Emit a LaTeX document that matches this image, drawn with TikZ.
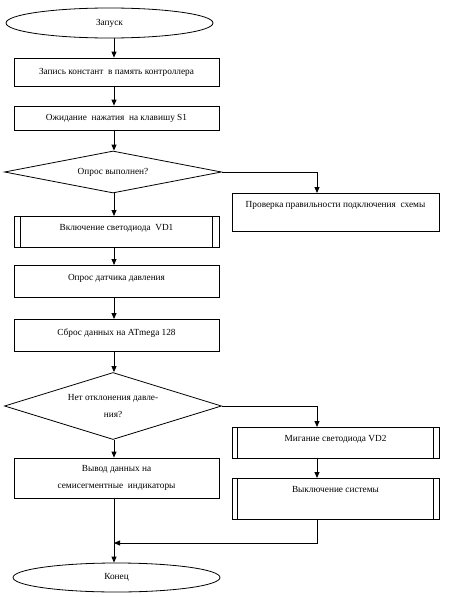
\documentclass[tikz,border=0pt]{standalone}
\usepackage{fontspec}
\setmainfont{Liberation Serif}
\usetikzlibrary{shapes.geometric,arrows.meta}
\begin{document}
\begin{tikzpicture}[x=1pt,y=-1pt,
  every node/.style={font=\fontsize{9.3}{16.5}\selectfont, inner sep=0pt, align=center},
  ln/.style={line width=0.8pt},
  arr/.style={ln, -{Triangle[width=5pt,length=6pt]}},
  box/.style={draw, ln, minimum width=205pt},
  rbox/.style={draw, ln, minimum width=207pt},
  term/.style={draw, ln, ellipse, minimum width=207pt, minimum height=30pt},
  dec/.style={draw, ln, diamond, minimum width=217pt, shape aspect=3.2}
]
\useasboundingbox (0,0) rectangle (448,597);
\coordinate (axis) at (114,0);
\coordinate (raxis) at (317,0);

\node[term] (start) at (109.5,23) {Запуск};
\node[box, minimum height=28pt] (b1) at (116.5,72) {Запись констант\ \ в память контроллера};
\node[box, minimum height=24pt] (b2) at (116.5,118) {Ожидание\ \ нажатия\ \ на клавишу S1};
\node[dec, minimum height=42pt] (d1) at (113,172) {Опрос выполнен?};
\node[rbox, text height=14.5pt, text depth=23.5pt] (chk) at (335.5,193) [anchor=north] {Проверка правильности подключения\ \ схемы};
\node[box, text height=14.5pt, text depth=16.5pt] (b3) at (116.5,216) [anchor=north] {Включение светодиода\ \ VD1};
\node[box, text height=15.5pt, text depth=16.5pt] (b4) at (116.5,265) [anchor=north] {Опрос датчика давления};
\node[box, text height=16pt, text depth=16pt] (b5) at (116.5,319) [anchor=north] {Сброс данных на ATmega 128};
\node[dec, minimum height=67pt] (d2) at (113,406) {Нет отклонения давле-\\ния?};
\node[box, minimum height=40pt] (b6) at (116.5,478) {Вывод данных на\\семисегментные\ \ индикаторы};
\node[rbox, text height=14pt, text depth=17pt] (b7) at (335.5,427) [anchor=north] {Мигание светодиода VD2};
\node[rbox, text height=14pt, text depth=27pt] (b8) at (335.5,478) [anchor=north] {Выключение системы};
\node[term, minimum height=29pt] (fin) at (116.5,577.5) {Конец};

% predefined-process side bars
\foreach \n/\d in {b3/7, b7/6, b8/6} {
  \draw[ln] ([xshift=\d pt]\n.north west) -- ([xshift=\d pt]\n.south west);
  \draw[ln] ([xshift=-\d pt]\n.north east) -- ([xshift=-\d pt]\n.south east);
}

\draw[arr] (start.south -| axis) -- (b1.north -| axis);
\draw[arr] (b1.south -| axis) -- (b2.north -| axis);
\draw[arr] (b2.south -| axis) -- (d1.north -| axis);
\draw[arr] (d1.south -| axis) -- (b3.north -| axis);
\draw[arr] (d1.east) -| (chk.north -| raxis);
\draw[arr] (b3.south -| axis) -- (b4.north -| axis);
\draw[arr] (b4.south -| axis) -- (b5.north -| axis);
\draw[arr] (b5.south -| axis) -- (d2.north -| axis);
\draw[arr] (d2.south -| axis) -- (b6.north -| axis);
\draw[arr] (d2.east) -| (b7.north -| raxis);
\draw[arr] (b7.south -| raxis) -- (b8.north -| raxis);
\coordinate (merge) at (114,543);
\draw[arr] (b8.south -| raxis) |- (merge);
\draw[arr] (b6.south -| axis) -- (fin.north -| axis);
\end{tikzpicture}
\end{document}
